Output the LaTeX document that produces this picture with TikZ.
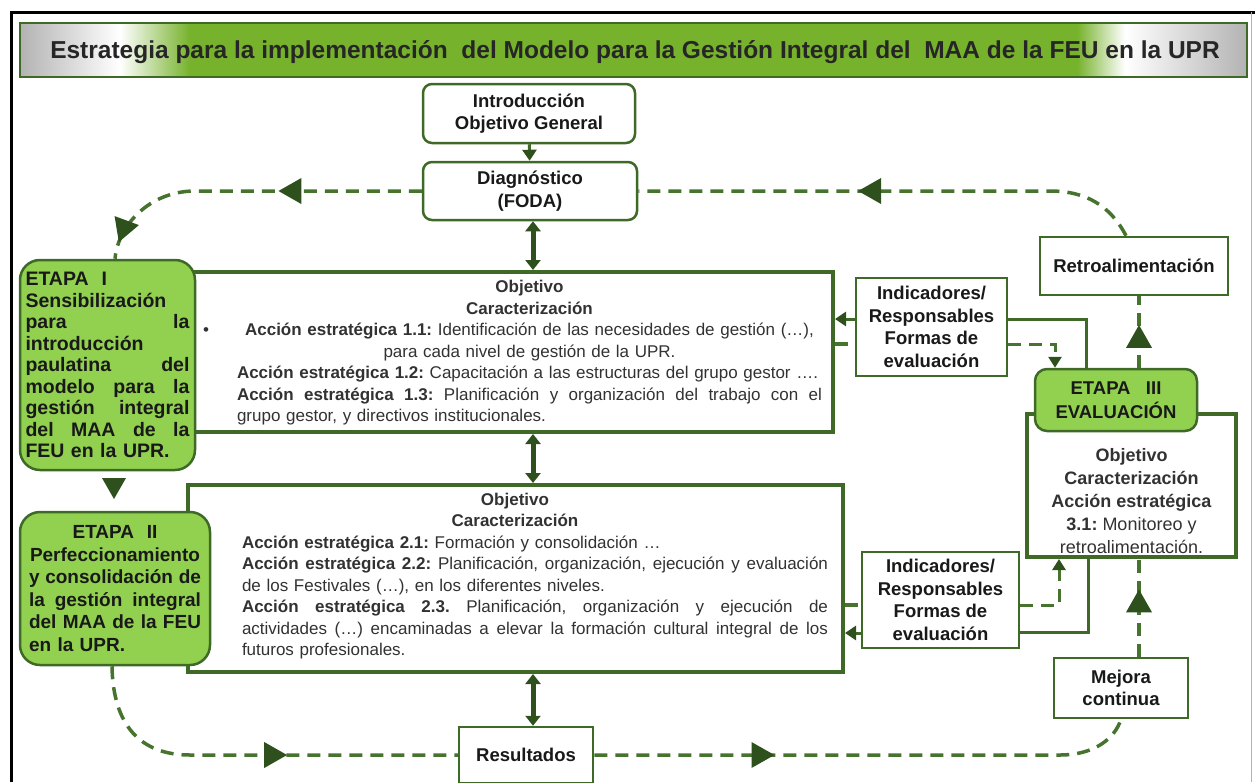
\documentclass[tikz,border=0pt]{standalone}
\usepackage{fontspec}
\setmainfont{Liberation Sans}
\usetikzlibrary{arrows.meta,decorations.markings}
\frenchspacing

\definecolor{frameg}{RGB}{63,105,38}
\definecolor{darkg}{RGB}{45,80,28}
\definecolor{dashg}{RGB}{70,115,45}
\definecolor{stagegreen}{RGB}{146,208,80}
\definecolor{leafgreen}{RGB}{118,178,44}
\definecolor{textgray}{RGB}{50,50,50}

\newcommand{\fillrow}[1]{\makebox[\linewidth][s]{\spaceskip=0.28em plus 1fil\xspaceskip=\spaceskip #1}\\}
\newcommand{\midrow}[1]{\makebox[\linewidth][c]{#1}\\}

\tikzset{
	labelbox/.style={draw=frameg, line width=2.5pt, fill=white, align=center, inner sep=0pt, text=black!90, font=\bfseries\fontsize{18.5}{22.5}\selectfont},
	roundbox/.style={labelbox, rounded corners=9pt},
	stagebox/.style={labelbox, fill=stagegreen, rounded corners=20pt},
	bigbox/.style={draw=frameg, line width=4pt, fill=white, inner sep=0pt},
	bodytext/.style={align=left, inner sep=0pt, text=textgray, font=\fontsize{17}{21.5}\selectfont},
	dashline/.style={draw=dashg, line width=3.5pt, dash pattern=on 13pt off 8pt},
	midhead/.style={postaction={decorate, decoration={markings, mark=at position #1 with {\arrow{Triangle[length=23pt,width=25pt,color=darkg]}}}}},
	twoway/.style={draw=darkg, line width=5pt, {Triangle[length=10pt,width=15pt]}-{Triangle[length=10pt,width=15pt]}},
	oneway/.style={draw=frameg, line width=3pt, -{Triangle[length=11pt,width=14pt,color=darkg]}},
	linkline/.style={draw=frameg, line width=3pt},
}

\begin{document}
\begin{tikzpicture}[x=1pt, y=-1pt]
		%%%%% START %%%%%
		\useasboundingbox (0,0) rectangle (1255,782);
		
		\draw[black, line width=3pt] (11,782) -- (11,12) -- (1255,12);
		\draw[black!30, line width=1pt] (1251,12) -- (1251,782);
		
		% title banner
		\shade[left color=gray!60, right color=white] (20,23) rectangle (120,77);
		\shade[left color=white, right color=leafgreen] (120,23) rectangle (190,77);
		\fill[leafgreen] (190,23) rectangle (1077,77);
		\shade[left color=leafgreen, right color=white] (1077,23) rectangle (1125,77);
		\shade[left color=white, right color=gray!60] (1125,23) rectangle (1247,77);
		\draw[frameg, line width=1.5pt] (20,23) rectangle (1247,77);
		\node[font=\bfseries\fontsize{24.5}{28}\selectfont, text=black!85] (title) at (635,52) {Estrategia para la implementación\ \ del Modelo para la Gestión Integral del\ \ MAA de la FEU en la UPR};
		
		\node[roundbox, minimum width=212, minimum height=59] (intro) at (529,113.5) {Introducción\\Objetivo General};
		\node[roundbox, minimum width=214, minimum height=58] (diag) at (530,191) {Diagnóstico\\(FODA)};
		\node[labelbox, minimum width=188, minimum height=58] (retro) at (1134,266) {Retroalimentación};
		
		\node[bigbox, minimum width=645, minimum height=160] (obj1) at (510.5,352) {};
		\node[bodytext, text width=585] (obj1text) at (529.5,353) {%
			\midrow{\textbf{Objetivo}}
			\midrow{\textbf{Caracterización}}
			\midrow{\llap{\textbullet\hspace{36pt}}\textbf{Acción estratégica 1.1:} Identificación de las necesidades de gestión (…),}
			\midrow{para cada nivel de gestión de la UPR.}
			\textbf{Acción estratégica 1.2:} Capacitación a las estructuras del grupo gestor ….\\
			\fillrow{\textbf{Acción estratégica 1.3:} Planificación y organización del trabajo con el}
			grupo gestor, y directivos institucionales.};
		\node[stagebox, text width=164, align=left, minimum width=175, minimum height=210, font=\bfseries\fontsize{19.5}{21.5}\selectfont] (etapa1) at (107.5,365) {%
			ETAPA\ \ I\\
			Sensibilización\\
			\fillrow{para la}
			introducción\\
			\fillrow{paulatina del}
			\fillrow{modelo para la}
			\fillrow{gestión integral}
			\fillrow{del MAA de la}
			FEU en la UPR.};
		
		\node[bigbox, minimum width=655, minimum height=187] (obj2) at (515.5,578.5) {};
		\node[bodytext, text width=586] (obj2text) at (535,576) {%
			\midrow{\hspace*{-40pt}\textbf{Objetivo}}
			\midrow{\hspace*{-40pt}\textbf{Caracterización}}
			\textbf{Acción estratégica 2.1:} Formación y consolidación …\\
			\fillrow{\textbf{Acción estratégica 2.2:} Planificación, organización, ejecución y evaluación}
			de los Festivales (…), en los diferentes niveles.\\
			\fillrow{\textbf{Acción estratégica 2.3.} Planificación, organización y ejecución de}
			\fillrow{actividades (…) encaminadas a elevar la formación cultural integral de los}
			futuros profesionales.};
		\node[stagebox, text width=172, align=left, minimum width=190, minimum height=153, font=\bfseries\fontsize{19}{22.5}\selectfont] (etapa2) at (115,588.5) {%
			\midrow{ETAPA\ \ II}
			\midrow{Perfeccionamiento}
			\fillrow{y consolidación de}
			\fillrow{la gestión integral}
			\fillrow{del MAA de la FEU}
			en la UPR.};
		
		\node[labelbox, minimum width=151, minimum height=98] (ind1) at (931.5,327) {Indicadores/\\Responsables\\Formas de\\evaluación};
		\node[labelbox, minimum width=157, minimum height=96] (ind2) at (940.5,600) {Indicadores/\\Responsables\\Formas de\\evaluación};
		
		\node[bigbox, minimum width=209, minimum height=143] (e3body) at (1131.5,485.5) {};
		\node[bodytext, align=center, font=\fontsize{18}{23}\selectfont] (e3text) at (1131.5,501) {\textbf{Objetivo}\\\textbf{Caracterización}\\\textbf{Acción estratégica}\\\textbf{3.1:} Monitoreo y\\retroalimentación.};
		\node[stagebox, rounded corners=12pt, minimum width=162, minimum height=62, font=\bfseries\fontsize{18.5}{24}\selectfont] (e3head) at (1116,400) {ETAPA\ \ \ III\\EVALUACIÓN};
		
		\node[labelbox, minimum width=134, minimum height=60] (mejora) at (1121,688) {Mejora\\continua};
		\node[labelbox, minimum width=134, minimum height=56] (resultados) at (526,755) {Resultados};
		
		% solid links
		\draw[oneway] (intro) -- (diag);
		\draw[twoway] ([xshift=3pt]diag.south) -- ([xshift=3pt]diag.south |- obj1.north);
		\draw[twoway] ([xshift=22.5pt]obj1.south) -- ([xshift=22.5pt]obj1.south |- obj2.north);
		\draw[twoway] ([xshift=7pt]resultados.north |- obj2.south) -- ([xshift=7pt]resultados.north);
		\fill[darkg] (102,478) -- (126,478) -- (114,499) -- cycle;
		
		\draw[oneway] ([yshift=8pt]ind1.west) -- ([yshift=8pt]ind1.west -| obj1.east);
		\draw[dashline] ([yshift=-17pt]ind1.west -| obj1.east) -- ([yshift=-17pt]ind1.west);
		\draw[linkline] ([yshift=8pt]ind1.east) -| ([xshift=-30pt]e3head.north);
		\draw[dashline, line width=3pt, -{Triangle[length=11pt,width=13pt,color=darkg]}] ([yshift=-17pt]ind1.east) -| ([xshift=-61pt]e3head.north);
		
		\draw[dashline] ([yshift=-5pt]ind2.west -| obj2.east) -- ([yshift=-5pt]ind2.west);
		\draw[oneway] ([yshift=-33pt]ind2.west) -- ([yshift=-33pt]ind2.west -| obj2.east);
		\draw[dashline, line width=3pt, -{Triangle[length=11pt,width=13pt,color=darkg]}] ([yshift=-5pt]ind2.east) -| ([xshift=-72.5pt]e3body.south);
		\draw[linkline] ([yshift=-32pt]ind2.east) -| ([xshift=-43.5pt]e3body.south);
		
		% improvement cycle
		\draw[dashline, midhead=0.42, midhead=0.95] (diag.west) -- (195,191) .. controls (150,191) and (118,225) .. ([xshift=7.5pt]etapa1.north);
		\draw[dashline, midhead=0.565] ([xshift=-8pt]retro.north) .. controls (1110,205) and (1085,191) .. (1050,191) -- (diag.east);
		\draw[dashline, midhead=0.576] ([xshift=-3pt]etapa2.south) .. controls (113,725) and (140,755) .. (190,755) -- (resultados.west);
		\draw[dashline, midhead=0.333] (resultados.east) -- (1060,755) .. controls (1095,755) and (1115,738) .. (mejora.south);
		\draw[dashline, midhead=0.69] ([xshift=18pt]mejora.north) -- ([xshift=7.5pt]e3body.south);
		\draw[dashline, midhead=0.6] ([xshift=23pt]e3head.north) -- ([xshift=5pt]retro.south);
		%%%%% END %%%%%
\end{tikzpicture}
\end{document}
